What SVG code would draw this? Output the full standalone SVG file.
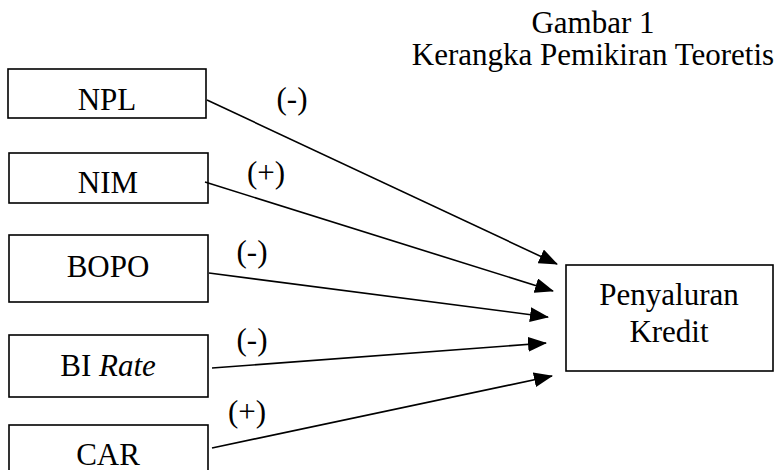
<svg xmlns="http://www.w3.org/2000/svg" width="782" height="470" viewBox="0 0 782 470">
<style>
  .box { fill: #ffffff; stroke: #000000; stroke-width: 1.6; }
  .t { font-family: "Liberation Serif", "Times New Roman", serif; font-size: 31px; fill: #000000; text-anchor: middle; }
  .conn { stroke: #000000; stroke-width: 1.6; fill: none; marker-end: url(#ah); }
</style>
<defs>
  <marker id="ah" markerWidth="19" markerHeight="15" refX="18" refY="7.5" orient="auto" markerUnits="userSpaceOnUse" viewBox="0 0 19 15">
    <path d="M0,0 L19,7.5 L0,15 Z" fill="#000000"/>
  </marker>
</defs>
<rect width="782" height="470" fill="#ffffff"/>
<g id="title">
  <text class="t" x="593" y="33">Gambar 1</text>
  <text class="t" x="593" y="65">Kerangka Pemikiran Teoretis</text>
</g>
<g id="npl">
  <rect class="box" x="8" y="69" width="198" height="49"/>
  <text class="t" x="107" y="110">NPL</text>
</g>
<g id="nim">
  <rect class="box" x="9" y="153" width="199" height="50"/>
  <text class="t" x="108" y="193">NIM</text>
</g>
<g id="bopo">
  <rect class="box" x="9" y="235" width="199" height="67"/>
  <text class="t" x="108" y="277">BOPO</text>
</g>
<g id="birate">
  <rect class="box" x="9" y="335" width="199" height="62"/>
  <text class="t" x="108" y="376">BI <tspan font-style="italic">Rate</tspan></text>
</g>
<g id="car">
  <rect class="box" x="9" y="425" width="199" height="60"/>
  <text class="t" x="108" y="465">CAR</text>
</g>
<g id="penyaluran">
  <rect class="box" x="566" y="265" width="207" height="106"/>
  <text class="t" x="669" y="305">Penyaluran</text>
  <text class="t" x="669" y="342">Kredit</text>
</g>
<g id="connectors">
  <line class="conn" x1="207" y1="100" x2="557" y2="264"/>
  <line class="conn" x1="205" y1="182" x2="553" y2="291"/>
  <line class="conn" x1="209" y1="273" x2="548" y2="317"/>
  <line class="conn" x1="212" y1="368" x2="546" y2="343"/>
  <line class="conn" x1="212" y1="448" x2="552" y2="376"/>
  <text class="t" x="292" y="109">(-)</text>
  <text class="t" x="266" y="183">(+)</text>
  <text class="t" x="252" y="262">(-)</text>
  <text class="t" x="252" y="350">(-)</text>
  <text class="t" x="247" y="422">(+)</text>
</g>
</svg>
